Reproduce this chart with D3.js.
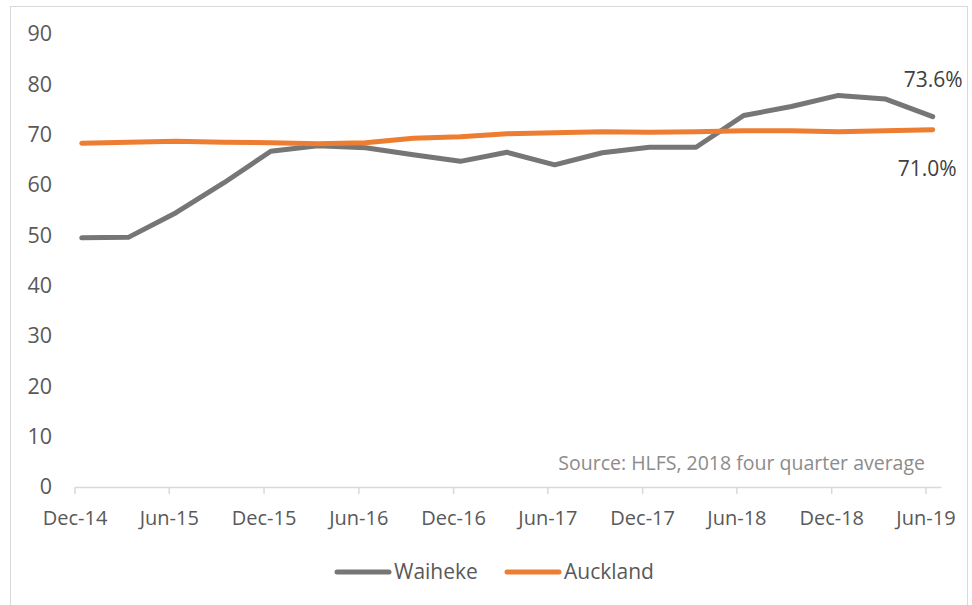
<!DOCTYPE html>
<html>
<head>
<meta charset="utf-8">
<script src="https://cdn.jsdelivr.net/npm/d3@7"></script>
<style>
  body { margin: 0; background: #fff; }
  svg { display: block; font-family: "Open Sans", sans-serif; }
</style>
</head>
<body>
<svg id="chart" width="972" height="605"></svg>
<script>
const width = 972;
const height = 605;

// quarterly periods, Dec-14 .. Jun-19
const quarters = ["2014-12", "2015-03", "2015-06", "2015-09", "2015-12", "2016-03", "2016-06",
    "2016-09", "2016-12", "2017-03", "2017-06", "2017-09", "2017-12", "2018-03", "2018-06",
    "2018-09", "2018-12", "2019-03", "2019-06"];
const waiheke = [49.5, 49.6, 54.5, 60.4, 66.7, 67.8, 67.4, 66.0, 64.7, 66.5, 64.0, 66.4, 67.5, 67.5,
    73.8, 75.6, 77.8, 77.1, 73.6];
const auckland = [68.3, 68.5, 68.7, 68.5, 68.4, 68.2, 68.4, 69.3, 69.6, 70.2, 70.4, 70.6, 70.5, 70.6,
    70.8, 70.8, 70.6, 70.8, 71.0];
const tickLabels = ["Dec-14", "Jun-15", "Dec-15", "Jun-16", "Dec-16", "Jun-17", "Dec-17", "Jun-18", "Dec-18", "Jun-19"];
const yTicks = [0, 10, 20, 30, 40, 50, 60, 70, 80, 90];
const seriesNames = ["Waiheke", "Auckland"];
const colors = ["#767676", "#ED7D31"];

const parseMonth = d3.timeParse("%Y-%m");
// each value sits mid-month on the date axis
const pointDate = q => d3.timeDay.offset(parseMonth(q), 14);
const tickDates = d3.range(0, quarters.length, 2).map(i => parseMonth(quarters[i]));

const svg = d3.select("#chart");

// chart border
svg.append("rect")
    .attr("x", 10.5).attr("y", 6.5)
    .attr("width", 957).attr("height", 610)
    .attr("fill", "none")
    .attr("stroke", "#d9d9d9");

const x = d3.scaleTime()
    .domain([parseMonth("2014-12"), parseMonth("2019-07")])
    .range([74.5, 941]);

const y = d3.scaleLinear()
    .domain([0, 90])
    .range([487, 34]);

// x axis
const xAxis = svg.append("g")
    .attr("transform", `translate(0,${y(0)})`)
    .call(d3.axisBottom(x)
        .tickValues(tickDates)
        .tickSize(7)
        .tickSizeOuter(0)
        .tickFormat((d, i) => tickLabels[i]))
    .attr("font-family", null);
xAxis.select(".domain").attr("stroke", "#d9d9d9").attr("stroke-width", 1.5);
xAxis.selectAll(".tick line").attr("stroke", "#d9d9d9").attr("stroke-width", 1.5);
xAxis.selectAll(".tick text")
    .attr("y", 24)
    .attr("fill", "#595959")
    .style("font-size", "20px");

// y axis labels only
const yAxis = svg.append("g")
    .attr("transform", "translate(52,0)")
    .call(d3.axisLeft(y).tickValues(yTicks).tickSize(0).tickPadding(0))
    .attr("font-family", null);
yAxis.select(".domain").remove();
yAxis.selectAll(".tick text")
    .attr("fill", "#595959")
    .style("font-size", "21.5px");

const line = d3.line()
    .x((d, i) => x(pointDate(quarters[i])))
    .y(d => y(d));

[waiheke, auckland].forEach((vals, k) => {
    svg.append("path")
        .datum(vals)
        .attr("fill", "none")
        .attr("stroke", colors[k])
        .attr("stroke-width", 5)
        .attr("stroke-linecap", "round")
        .attr("stroke-linejoin", "round")
        .attr("d", line);
});

// end labels
const last = quarters.length - 1;
svg.append("text")
    .attr("x", x(pointDate(quarters[last])) + 30)
    .attr("y", y(waiheke[last]) - 30)
    .attr("text-anchor", "end")
    .attr("fill", "#404040")
    .style("font-size", "21px")
    .text(waiheke[last].toFixed(1) + "%");
svg.append("text")
    .attr("x", x(pointDate(quarters[last])) + 24)
    .attr("y", y(auckland[last]) + 46)
    .attr("text-anchor", "end")
    .attr("fill", "#404040")
    .style("font-size", "21px")
    .text(auckland[last].toFixed(1) + "%");

// source note
svg.append("text")
    .attr("x", 925)
    .attr("y", 470)
    .attr("text-anchor", "end")
    .attr("fill", "#8c8c8c")
    .style("font-size", "19.5px")
    .text("Source: HLFS, 2018 four quarter average");

// legend
const legendX = [335, 505];
seriesNames.forEach((name, k) => {
    const g = svg.append("g").attr("transform", `translate(${legendX[k]},572)`);
    g.append("line")
        .attr("x1", 2).attr("x2", 54)
        .attr("stroke", colors[k])
        .attr("stroke-width", 5)
        .attr("stroke-linecap", "round");
    g.append("text")
        .attr("x", 59)
        .attr("dy", "0.35em")
        .attr("fill", "#595959")
        .style("font-size", "21px")
        .text(name);
});
</script>
</body>
</html>
